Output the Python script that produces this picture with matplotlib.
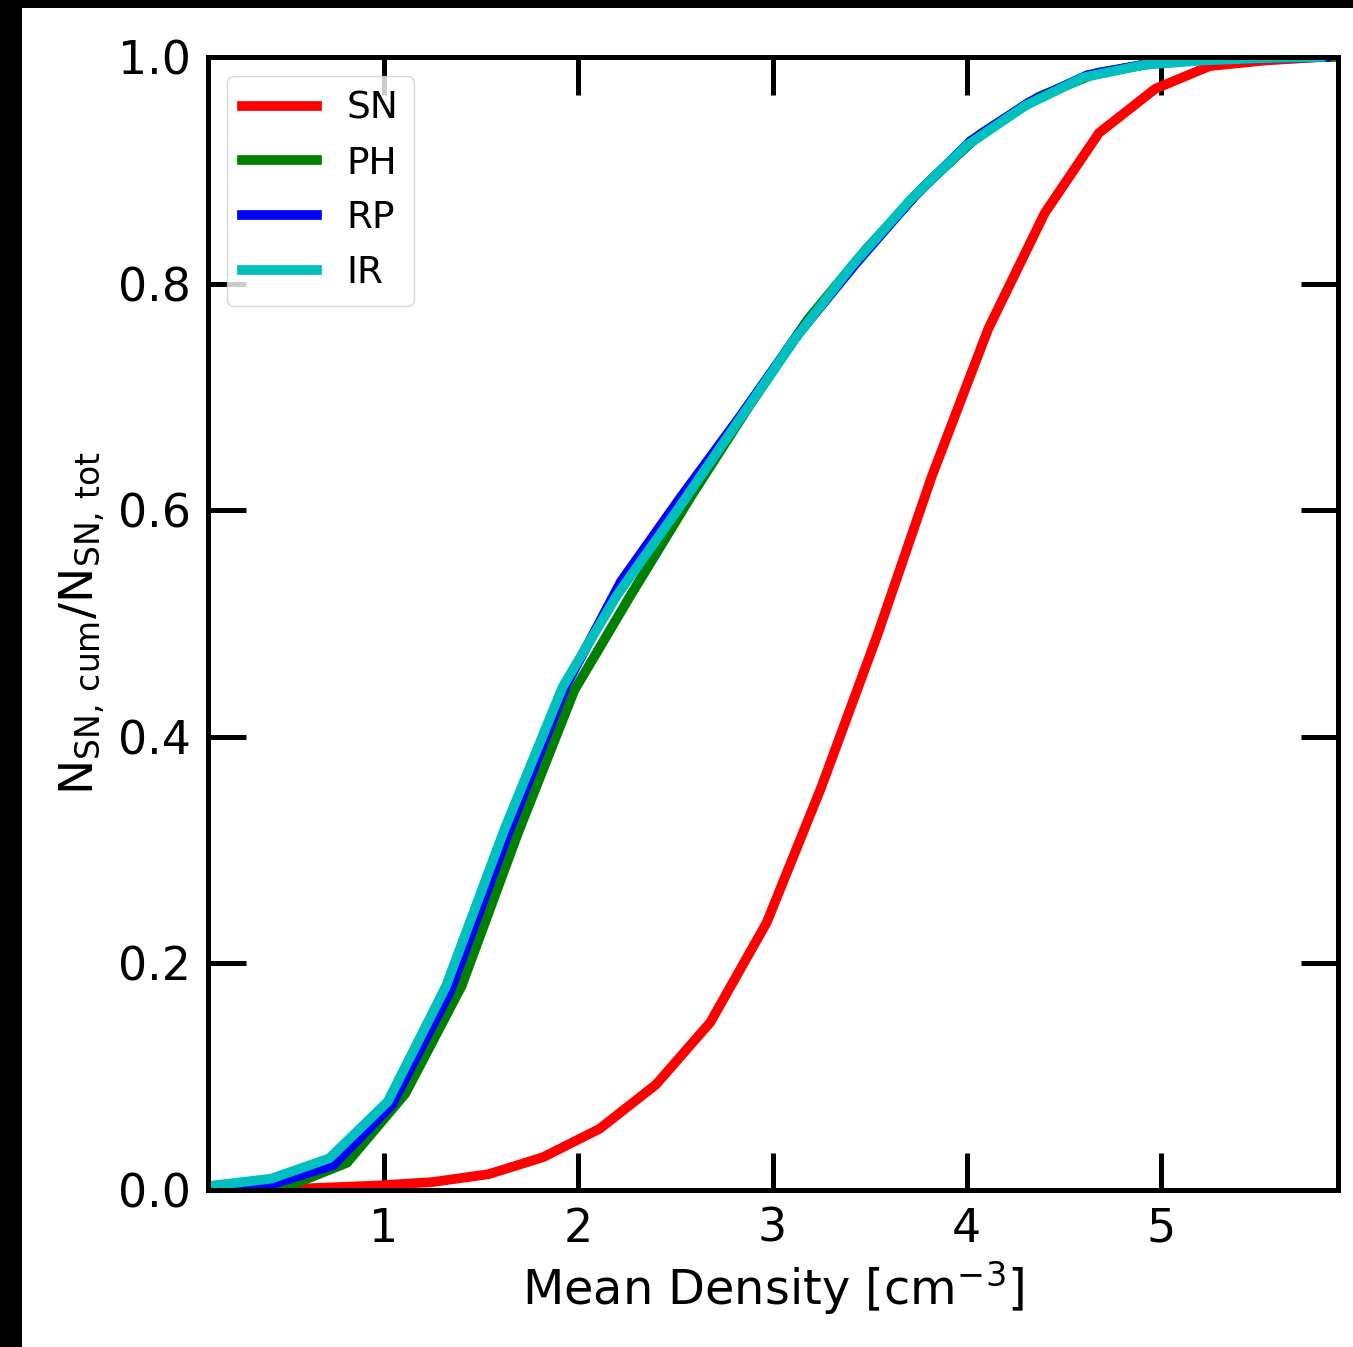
import matplotlib
matplotlib.use("Agg")
import matplotlib.pyplot as plt
from matplotlib.patches import Rectangle

plt.rcParams['mathtext.fontset'] = 'dejavusans'

# Data
x_sn = [0.11, 0.40, 0.68, 0.97, 1.25, 1.54, 1.82, 2.11, 2.40, 2.68, 2.97,
        3.25, 3.54, 3.82, 4.11, 4.40, 4.68, 4.97, 5.25, 5.54, 5.83]
y_sn = [0.0, 0.0, 0.002, 0.004, 0.007, 0.014, 0.029, 0.054, 0.093, 0.148, 0.236,
        0.355, 0.49, 0.63, 0.76, 0.862, 0.933, 0.972, 0.992, 0.997, 1.0]

x_ir = [0.12, 0.42, 0.72, 1.02, 1.32, 1.62, 1.92, 2.20, 2.51, 2.81, 3.11,
        3.41, 3.71, 4.00, 4.30, 4.60, 4.91, 5.22, 5.52, 5.82]
y_ir = [0.004, 0.010, 0.028, 0.078, 0.18, 0.318, 0.444, 0.525, 0.60, 0.675, 0.75,
        0.816, 0.874, 0.922, 0.957, 0.982, 0.993, 0.997, 0.999, 1.0]

x_rp = [0.14, 0.44, 0.74, 1.04, 1.34, 1.64, 1.94, 2.22, 2.53, 2.83, 3.13,
        3.43, 3.73, 4.02, 4.32, 4.62, 4.93, 5.24, 5.54, 5.85]
y_rp = [0.002, 0.006, 0.022, 0.075, 0.175, 0.315, 0.446, 0.537, 0.612, 0.682, 0.755,
        0.818, 0.877, 0.926, 0.960, 0.984, 0.994, 0.998, 0.999, 1.0]

x_ph = [0.19, 0.49, 0.81, 1.11, 1.40, 1.69, 1.98, 2.27, 2.58, 2.88, 3.18,
        3.48, 3.78, 4.07, 4.37, 4.67, 4.98, 5.29, 5.59, 5.89]
y_ph = [0.0, 0.002, 0.024, 0.085, 0.18, 0.315, 0.441, 0.525, 0.612, 0.692, 0.768,
        0.83, 0.886, 0.932, 0.965, 0.986, 0.995, 0.998, 1.0, 1.0]

labels = ['SN', 'PH', 'RP', 'IR']
colors = ['r', 'g', 'b', 'c']

xticks = [1, 2, 3, 4, 5]
yticks = [0.0, 0.2, 0.4, 0.6, 0.8, 1.0]

W, H = 1353, 1347
fig = plt.figure(figsize=(W / 100, H / 100), dpi=100)
fig.patch.set_facecolor('white')
ax = fig.add_axes([208 / W, 1 - 1190 / H, (1338 - 208) / W, (1190 - 57) / H])

series = [(x_sn, y_sn), (x_ph, y_ph), (x_rp, y_rp), (x_ir, y_ir)]
for (xs, ys), lab, col in zip(series, labels, colors):
    ax.plot(xs, ys, color=col, lw=7, label=lab)

ax.set_xlim(0.095, 5.91)
ax.set_ylim(0.0, 1.0)
ax.set_xticks(xticks)
ax.set_yticks(yticks)
ax.set_yticklabels([f"{v:.1f}" for v in yticks])
ax.tick_params(axis='both', which='major', direction='in', length=27, width=3.6,
               labelsize=33, top=True, right=True, pad=12)
for sp in ax.spines.values():
    sp.set_linewidth(3.6)

ax.set_xlabel(r'Mean Density [cm$^{-3}$]', fontsize=34.5, labelpad=6)
ax.set_ylabel(r'$\mathrm{N_{SN,\,cum}/N_{SN,\,tot}}$', fontsize=34, labelpad=8)

ax.legend(loc='upper left', fontsize=27, borderaxespad=0.5)

# black border strips present in the reference image
fig.patches.append(Rectangle((0, 1 - 8 / H), 1, 8 / H, transform=fig.transFigure,
                             facecolor='black', edgecolor='none', zorder=10))
fig.patches.append(Rectangle((0, 0), 22 / W, 1, transform=fig.transFigure,
                             facecolor='black', edgecolor='none', zorder=10))

fig.savefig('out.png', dpi=100, facecolor='white')
